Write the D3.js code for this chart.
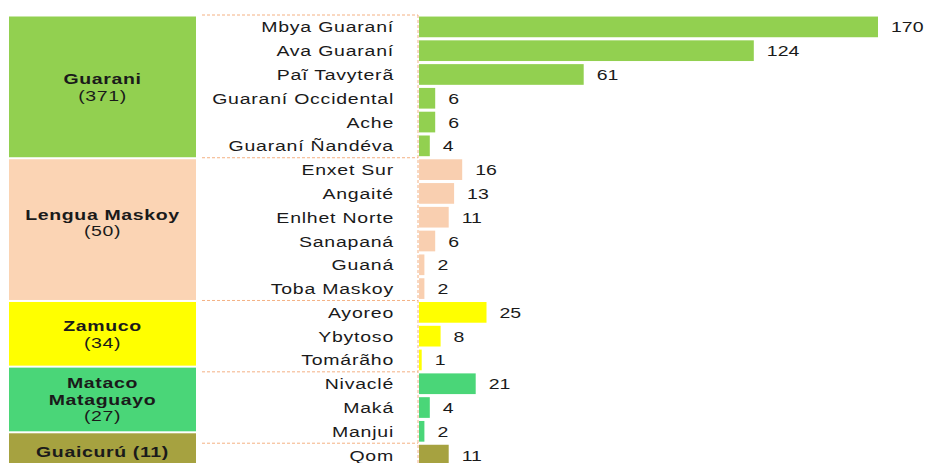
<!DOCTYPE html>
<html><head><meta charset="utf-8">
<script src="https://cdn.jsdelivr.net/npm/d3@7"></script>
<style>
html,body{margin:0;padding:0;background:#fff;}
svg{display:block;font-family:"Liberation Sans",Arial,sans-serif;}
</style></head>
<body><svg id="c" width="925" height="463"></svg>
<script>
const categories = ["Mbya Guaraní","Ava Guaraní","Paĩ Tavyterã","Guaraní Occidental","Ache","Guaraní Ñandéva",
  "Enxet Sur","Angaité","Enlhet Norte","Sanapaná","Guaná","Toba Maskoy",
  "Ayoreo","Ybytoso","Tomárãho",
  "Nivaclé","Maká","Manjui",
  "Qom"];
const values = [170,124,61,6,6,4, 16,13,11,6,2,2, 25,8,1, 21,4,2, 11];
const groupNames = [["Guarani"],["Lengua Maskoy"],["Zamuco"],["Mataco","Mataguayo"],["Guaicurú"]];
const groupTotals = [371,50,34,27,11];
const groupSizes = [6,6,3,3,1];
const groupColors = ["#92d050","#fbd4b4","#ffff00","#4ad678","#a6a240"];
const barColors = ["#92d050","#f9cfb0","#ffff00","#4ad678","#a6a240"];

const svg = d3.select("#c");
const SX = 1.3;
const textCol = "#1a1a1a";
const dashCol = "#f4b183";

const rowGroup = [];
groupSizes.forEach((n,g)=>{for(let i=0;i<n;i++) rowGroup.push(g);});

const y = d3.scaleBand().domain(d3.range(categories.length)).range([15,467]).paddingInner(0.13).paddingOuter(0.065);
const x = d3.scaleLinear().domain([0,170]).range([419,878]);
const step = y.step();
const rowTop = i => 15 + i*step;
const bottom = y.range()[1];

// group boxes (table cells: 3-row groups have slightly compressed rows; last cell runs to the bottom)
let start = 0, bt = 16;
const groups = groupSizes.map((n,g)=>{
  const f = n===3 ? 0.92 : 1;
  const last = g===groupSizes.length-1;
  const h = last ? bottom - bt : n*step*f;
  const o={g,start,n,top:bt,h,last};
  start+=n; bt+=h; return o;
});
const boxX0 = 9, boxX1 = 196;
svg.selectAll("rect.box").data(groups).join("rect")
  .attr("x",boxX0).attr("width",boxX1-boxX0)
  .attr("y",d=>d.top+0.5)
  .attr("height",d=>d.h-(d.last?0:2))
  .attr("fill",d=>groupColors[d.g]);

// group labels
groups.forEach(d=>{
  const cy = d.top + d.h/2 - (d.n>=6 && d.g>0 ? 7 : 0) + (d.last?2:0);
  const lines = groupNames[d.g].slice();
  const single = d.n===1;
  const lh = 16.5;
  const nLines = single ? 1 : lines.length+1;
  const firstBase = cy - (nLines-1)*lh/2 + 5;
  const t = svg.append("g").attr("transform",`translate(${(boxX0+boxX1)/2},${firstBase}) scale(${SX},1)`);
  if(single){
    t.append("text").attr("text-anchor","middle").attr("font-size",15).attr("font-weight","bold").attr("letter-spacing",0.5).attr("fill",textCol)
      .text(lines[0]+" ("+groupTotals[d.g]+")");
  } else {
    lines.forEach((l,k)=>{
      t.append("text").attr("y",k*lh).attr("text-anchor","middle").attr("font-size",15).attr("font-weight","bold").attr("letter-spacing",0.5).attr("fill",textCol).text(l);
    });
    t.append("text").attr("y",lines.length*lh).attr("text-anchor","middle").attr("font-size",15).attr("letter-spacing",0.5).attr("fill",textCol).text("("+groupTotals[d.g]+")");
  }
});

// dashed lines
const dashX0 = 202, dashX1 = 418;
const seps = [0].concat(groups.slice(1).map(d=>d.start));
svg.selectAll("line.sep").data(seps).join("line")
  .attr("x1",dashX0).attr("x2",dashX1)
  .attr("y1",d=>rowTop(d)).attr("y2",d=>rowTop(d))
  .attr("stroke",dashCol).attr("stroke-width",1).attr("stroke-dasharray","3,2");
svg.append("line").attr("x1",dashX1).attr("x2",dashX1).attr("y1",rowTop(0)).attr("y2",470)
  .attr("stroke",dashCol).attr("stroke-width",1).attr("stroke-dasharray","3,2");

// bars
svg.selectAll("rect.bar").data(values).join("rect")
  .attr("x",x(0)).attr("y",(d,i)=>y(i)).attr("height",y.bandwidth())
  .attr("width",d=>x(d)-x(0))
  .attr("fill",(d,i)=>barColors[rowGroup[i]]);

// category labels
categories.forEach((c,i)=>{
  svg.append("text").attr("transform",`translate(394,${y(i)+y.bandwidth()/2+5.5}) scale(${SX},1)`)
    .attr("text-anchor","end").attr("font-size",15).attr("letter-spacing",0.6).attr("fill",textCol).text(c);
});
// value labels
values.forEach((v,i)=>{
  svg.append("text").attr("transform",`translate(${x(v)+13},${y(i)+y.bandwidth()/2+5.5}) scale(${SX},1)`)
    .attr("text-anchor","start").attr("font-size",15).attr("fill",textCol).text(v);
});
</script></body></html>
